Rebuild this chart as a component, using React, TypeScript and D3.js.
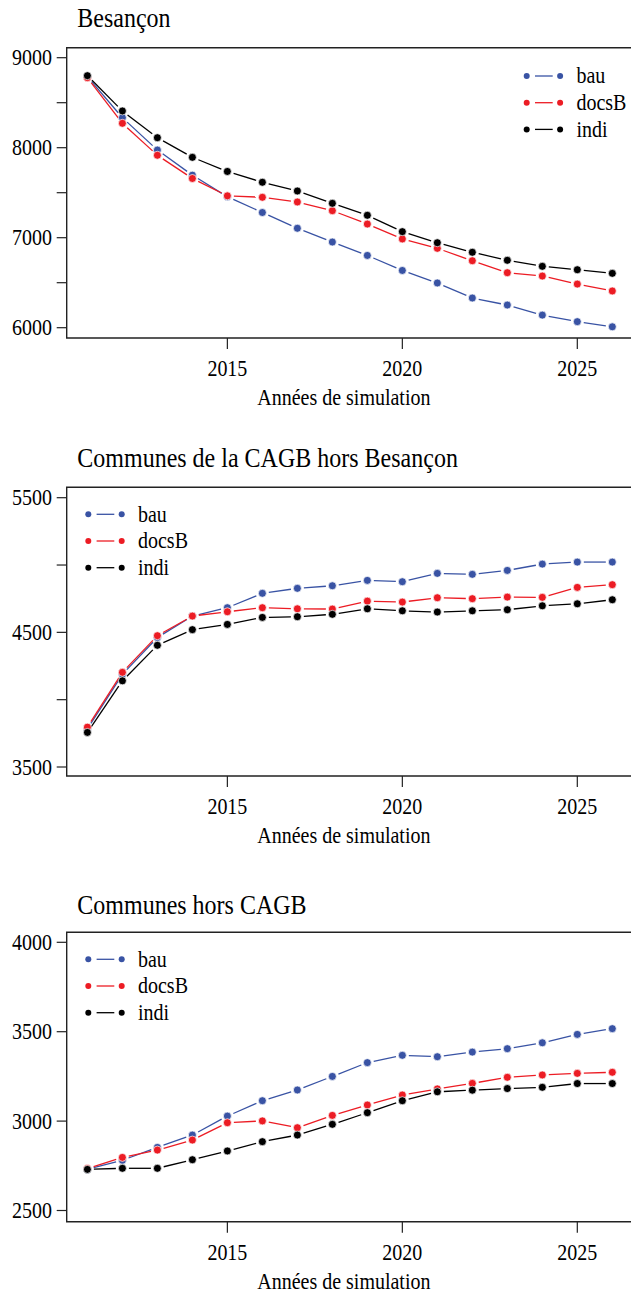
import React from "react";
import * as d3 from "d3";

const years = [2011, 2012, 2013, 2014, 2015, 2016, 2017, 2018, 2019, 2020, 2021, 2022, 2023, 2024, 2025, 2026];
const seriesNames = ["bau", "docsB", "indi"];
const xTicks = [2015, 2020, 2025];
const xTitle = "Années de simulation";

// Panel 1: Besançon
const besanconBau = [8790, 8333, 7974, 7695, 7455, 7280, 7105, 6952, 6803, 6636, 6497, 6330, 6252, 6140, 6067, 6010];
const besanconDocsB = [8778, 8271, 7916, 7658, 7465, 7449, 7397, 7300, 7152, 6986, 6882, 6744, 6611, 6574, 6485, 6408];
const besanconIndi = [8800, 8408, 8111, 7893, 7736, 7616, 7519, 7382, 7249, 7067, 6944, 6838, 6749, 6682, 6644, 6604];
const besanconTicks = [6000, 6500, 7000, 7500, 8000, 8500, 9000];
const besanconLabels = [6000, 7000, 8000, 9000];

// Panel 2: Communes de la CAGB hors Besançon
const cagbBau = [3783, 4188, 4462, 4621, 4683, 4790, 4827, 4846, 4886, 4876, 4938, 4931, 4960, 5007, 5022, 5022];
const cagbDocsB = [3796, 4203, 4475, 4621, 4653, 4683, 4675, 4673, 4732, 4725, 4757, 4750, 4762, 4760, 4834, 4854];
const cagbIndi = [3757, 4140, 4404, 4520, 4559, 4611, 4616, 4634, 4675, 4660, 4651, 4660, 4668, 4697, 4712, 4742];
const cagbTicks = [3500, 4000, 4500, 5000, 5500];
const cagbLabels = [3500, 4500, 5500];

// Panel 3: Communes hors CAGB
const horsBau = [2730, 2781, 2853, 2922, 3028, 3114, 3174, 3250, 3327, 3368, 3360, 3386, 3405, 3438, 3485, 3517];
const horsDocsB = [2735, 2797, 2838, 2894, 2991, 3001, 2963, 3032, 3090, 3146, 3180, 3211, 3245, 3258, 3267, 3273];
const horsIndi = [2730, 2736, 2736, 2784, 2833, 2885, 2922, 2982, 3047, 3114, 3164, 3173, 3182, 3189, 3210, 3210];
const horsTicks = [2500, 3000, 3500, 4000];
const horsLabels = [2500, 3000, 3500, 4000];

const colors = ["#3953a4", "#ec1c24", "#000000"];
const FONT = "'Liberation Serif', 'Times New Roman', serif";
const STRETCH = 1.15;

const panels = [
  {
    title: "Besançon",
    series: [besanconBau, besanconDocsB, besanconIndi],
    ticks: besanconTicks,
    labels: besanconLabels,
    yAnchor: [6000, 9000],
    pxAnchor: [327.7, 57.7],
    top: 47.7,
    bottom: 338,
    titleY: 27,
    legendX: 526.7,
    legendY: 76,
  },
  {
    title: "Communes de la CAGB hors Besançon",
    series: [cagbBau, cagbDocsB, cagbIndi],
    ticks: cagbTicks,
    labels: cagbLabels,
    yAnchor: [3500, 5500],
    pxAnchor: [767, 497.7],
    top: 487.3,
    bottom: 776,
    titleY: 467,
    legendX: 88.3,
    legendY: 514.3,
  },
  {
    title: "Communes hors CAGB",
    series: [horsBau, horsDocsB, horsIndi],
    ticks: horsTicks,
    labels: horsLabels,
    yAnchor: [2500, 4000],
    pxAnchor: [1210.5, 942.3],
    top: 932.3,
    bottom: 1221.7,
    titleY: 913.5,
    legendX: 88.3,
    legendY: 959.3,
  },
];

const x = d3.scaleLinear().domain([2011, 2026]).range([87.4, 612.3]);
const LEFT = 66.7;
const GAP = 6.5;

function T({ x, y, size, anchor, children }: { x: number; y: number; size: number; anchor?: string; children: any }) {
  return (
    <text
      transform={`translate(${x},${y}) scale(1,${STRETCH})`}
      textAnchor={anchor || "start"}
      fontSize={size}
      fontFamily={FONT}
      fill="#000"
    >
      {children}
    </text>
  );
}

function gappedSegments(pts: [number, number][]) {
  const segs: [number, number, number, number][] = [];
  for (let i = 0; i < pts.length - 1; i++) {
    const [x1, y1] = pts[i];
    const [x2, y2] = pts[i + 1];
    const dx = x2 - x1, dy = y2 - y1;
    const len = Math.hypot(dx, dy);
    if (len <= 2 * GAP + 1) continue;
    const ux = dx / len, uy = dy / len;
    segs.push([x1 + ux * GAP, y1 + uy * GAP, x2 - ux * GAP, y2 - uy * GAP]);
  }
  return segs;
}

function Panel({ p }: { p: (typeof panels)[number] }) {
  const y = d3.scaleLinear().domain(p.yAnchor).range(p.pxAnchor);
  return (
    <g>
      <T x={77.3} y={p.titleY} size={24}>{p.title}</T>
      {/* frame */}
      <path
        d={`M640,${p.top}H${LEFT}V${p.bottom}H640`}
        fill="none"
        stroke="#222"
        strokeWidth={1.4}
      />
      {/* y ticks */}
      {p.ticks.map((t) => (
        <line key={t} x1={LEFT - 10} x2={LEFT} y1={y(t)} y2={y(t)} stroke="#222" strokeWidth={1.2} />
      ))}
      {p.labels.map((t) => (
        <T key={t} x={52} y={y(t) + 7.5} size={20} anchor="end">{t}</T>
      ))}
      {/* x ticks */}
      {xTicks.map((t) => (
        <g key={t}>
          <line x1={x(t)} x2={x(t)} y1={p.bottom} y2={p.bottom + 11} stroke="#222" strokeWidth={1.2} />
          <T x={x(t)} y={p.bottom + 38} size={20} anchor="middle">{t}</T>
        </g>
      ))}
      <T x={x(2018.5) - 6} y={p.bottom + 67} size={20} anchor="middle">{xTitle}</T>
      {/* series lines */}
      {p.series.map((vals, si) => {
        const pts = vals.map((v, i) => [x(years[i]), y(v)] as [number, number]);
        return (
          <g key={si}>
            {gappedSegments(pts).map((s, k) => (
              <line key={k} x1={s[0]} y1={s[1]} x2={s[2]} y2={s[3]} stroke={colors[si]} strokeWidth={1.3} />
            ))}
          </g>
        );
      })}
      {/* points */}
      {p.series.map((vals, si) => (
        <g key={"p" + si}>
          {vals.map((v, i) => (
            <circle key={i} cx={x(years[i])} cy={y(v)} r={4} fill={colors[si]} stroke="#fff" strokeWidth={0.7} />
          ))}
        </g>
      ))}
      {/* legend */}
      {seriesNames.map((name, si) => {
        const ly = p.legendY + si * 26.7;
        return (
          <g key={name}>
            <circle cx={p.legendX} cy={ly} r={3} fill={colors[si]} />
            <line x1={p.legendX + 8.3} x2={p.legendX + 26} y1={ly} y2={ly} stroke={colors[si]} strokeWidth={1.3} />
            <circle cx={p.legendX + 33.4} cy={ly} r={3} fill={colors[si]} />
            <T x={p.legendX + 49.7} y={ly + 7.2} size={20}>{name}</T>
          </g>
        );
      })}
    </g>
  );
}

export default function App() {
  return (
    <svg
      width={631}
      height={1294}
      viewBox="0 0 631 1294"
      style={{ position: "absolute", left: 0, top: 0, background: "#fff" }}
    >
      <rect width={631} height={1294} fill="#fff" />
      {panels.map((p) => (
        <Panel key={p.title} p={p} />
      ))}
    </svg>
  );
}
